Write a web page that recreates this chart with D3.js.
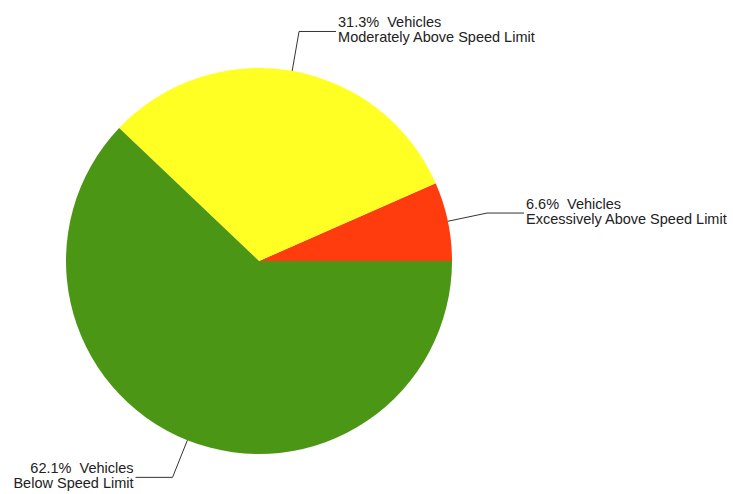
<!DOCTYPE html>
<html>
<head>
<meta charset="utf-8">
<script src="https://cdn.jsdelivr.net/npm/d3@7"></script>
<style>
  body { margin: 0; background: #fff; }
  text { font-family: "Liberation Sans", Arial, sans-serif; font-size: 14.5px; fill: #222; white-space: pre; }
</style>
</head>
<body>
<svg id="chart" width="733" height="494"></svg>
<script>
// slices go counterclockwise from 3 o'clock
var categories = ["Excessively Above Speed Limit", "Moderately Above Speed Limit", "Below Speed Limit"];
var percents = [6.6, 31.3, 62.1];
var colors = ["#ff3c0e", "#ffff24", "#4b9614"];

var width = 733, height = 494,
    cx = 259, cy = 261,
    radius = 193,
    elbowR = 233,
    tail = 37;

var svg = d3.select("#chart");
var g = svg.append("g").attr("transform", "translate(" + cx + "," + cy + ")");

var pie = d3.pie()
    .sort(null)
    .value(function (d) { return d; })
    .startAngle(Math.PI / 2)
    .endAngle(Math.PI / 2 - 2 * Math.PI);

var arc = d3.arc().innerRadius(0).outerRadius(radius);

var slices = pie(percents);

g.selectAll("path.slice")
    .data(slices)
    .enter().append("path")
    .attr("class", "slice")
    .attr("d", arc)
    .style("fill", function (d, i) { return colors[i]; })
    .style("stroke", "none");

// leader lines + labels
slices.forEach(function (d, i) {
    var a = (d.startAngle + d.endAngle) / 2;
    var x0 = radius * Math.sin(a), y0 = -radius * Math.cos(a);
    var x1 = elbowR * Math.sin(a), y1 = -elbowR * Math.cos(a);
    var right = x1 >= 0;
    var x2 = right ? x1 + tail : x1 - tail;

    g.append("polyline")
        .attr("points", [[x0, y0], [x1, y1], [x2, y1]].map(function (p) { return p.join(","); }).join(" "))
        .style("fill", "none")
        .style("stroke", "#333")
        .style("stroke-width", 1);

    var tx = right ? x2 + 2 : x2 - 2;
    var label = g.append("text")
        .attr("text-anchor", right ? "start" : "end");

    label.append("tspan")
        .attr("x", tx)
        .attr("y", y1 - 4.5)
        .text(percents[i].toFixed(1) + "%  Vehicles");
    label.append("tspan")
        .attr("x", tx)
        .attr("y", y1 + 10.5)
        .text(categories[i]);
});
</script>
</body>
</html>
